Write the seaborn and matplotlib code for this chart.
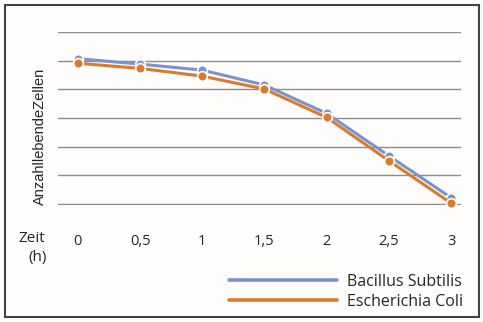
import matplotlib
matplotlib.use("Agg")
import matplotlib.pyplot as plt
import seaborn as sns
import pandas as pd
from matplotlib.patches import Rectangle
from matplotlib.lines import Line2D

sns.set_theme(style="white")
plt.rcParams['font.family'] = ['Open Sans', 'DejaVu Sans']

zeit = [0, 0.5, 1, 1.5, 2, 2.5, 3]
zeit_labels = ["0", "0,5", "1", "1,5", "2", "2,5", "3"]
bacillus = [5.07, 4.88, 4.67, 4.15, 3.16, 1.68, 0.22]
coli = [4.91, 4.73, 4.46, 4.01, 3.02, 1.51, 0.03]
series = ["Bacillus Subtilis", "Escherichia Coli"]
colors = ["#7A93C8", "#DB7A2E"]

df = pd.DataFrame({
    "Zeit": zeit * 2,
    "Wert": bacillus + coli,
    "Art": [series[0]] * len(zeit) + [series[1]] * len(zeit),
})

fig = plt.figure(figsize=(4.83, 3.22), dpi=100, facecolor="white")
ax = fig.add_axes([58 / 483, 1 - 205 / 322, (461 - 58) / 483, (205 - 32) / 322])
ax.set_facecolor("#FEFDFB")
fig.patches.append(Rectangle((5 / 483, 1 - 317 / 322), 474 / 483, 312 / 322,
                             transform=fig.transFigure, facecolor="#FEFDFB",
                             edgecolor="#444444", linewidth=1.5, zorder=-1))

sns.lineplot(data=df, x="Zeit", y="Wert", hue="Art", palette=colors, ax=ax,
             marker="o", markersize=7, markeredgecolor="white", markeredgewidth=1.2,
             linewidth=2.2, legend=False, clip_on=False)

ax.set_xlim(-0.16, 3.08)
ax.set_ylim(-0.035, 6)
ax.set_yticks(range(0, 7))
ax.set_yticklabels([])
ax.grid(axis="y", color="#8C8C8C", linewidth=1)
ax.set_axisbelow(True)
ax.set_xticks(zeit)
ax.set_xticklabels(zeit_labels, fontsize=10.5)
ax.tick_params(axis="x", length=0, pad=21)
ax.tick_params(axis="y", length=0)
for s in ax.spines.values():
    s.set_visible(False)
ax.set_xlabel("")
ax.set_ylabel("")
fig.text(40 / 483, 1 - 136 / 322, "AnzahllebendeZellen", rotation=90,
         ha="center", va="center", fontsize=10.5, family="Liberation Sans")
fig.text(32 / 483, 1 - 238 / 322, "Zeit", ha="center", va="center", fontsize=11)
fig.text(38 / 483, 1 - 257 / 322, "(h)", ha="center", va="center", fontsize=11)

handles = [Line2D([], [], color=c, linewidth=2.6) for c in colors]
fig.legend(handles, series, loc="upper left", bbox_to_anchor=(229 / 483, 1 - 274 / 322),
           frameon=False, fontsize=11.5, handlelength=6.75, handletextpad=0.62,
           labelspacing=0.25, borderaxespad=0, borderpad=0)

fig.savefig("out.png", dpi=100)
